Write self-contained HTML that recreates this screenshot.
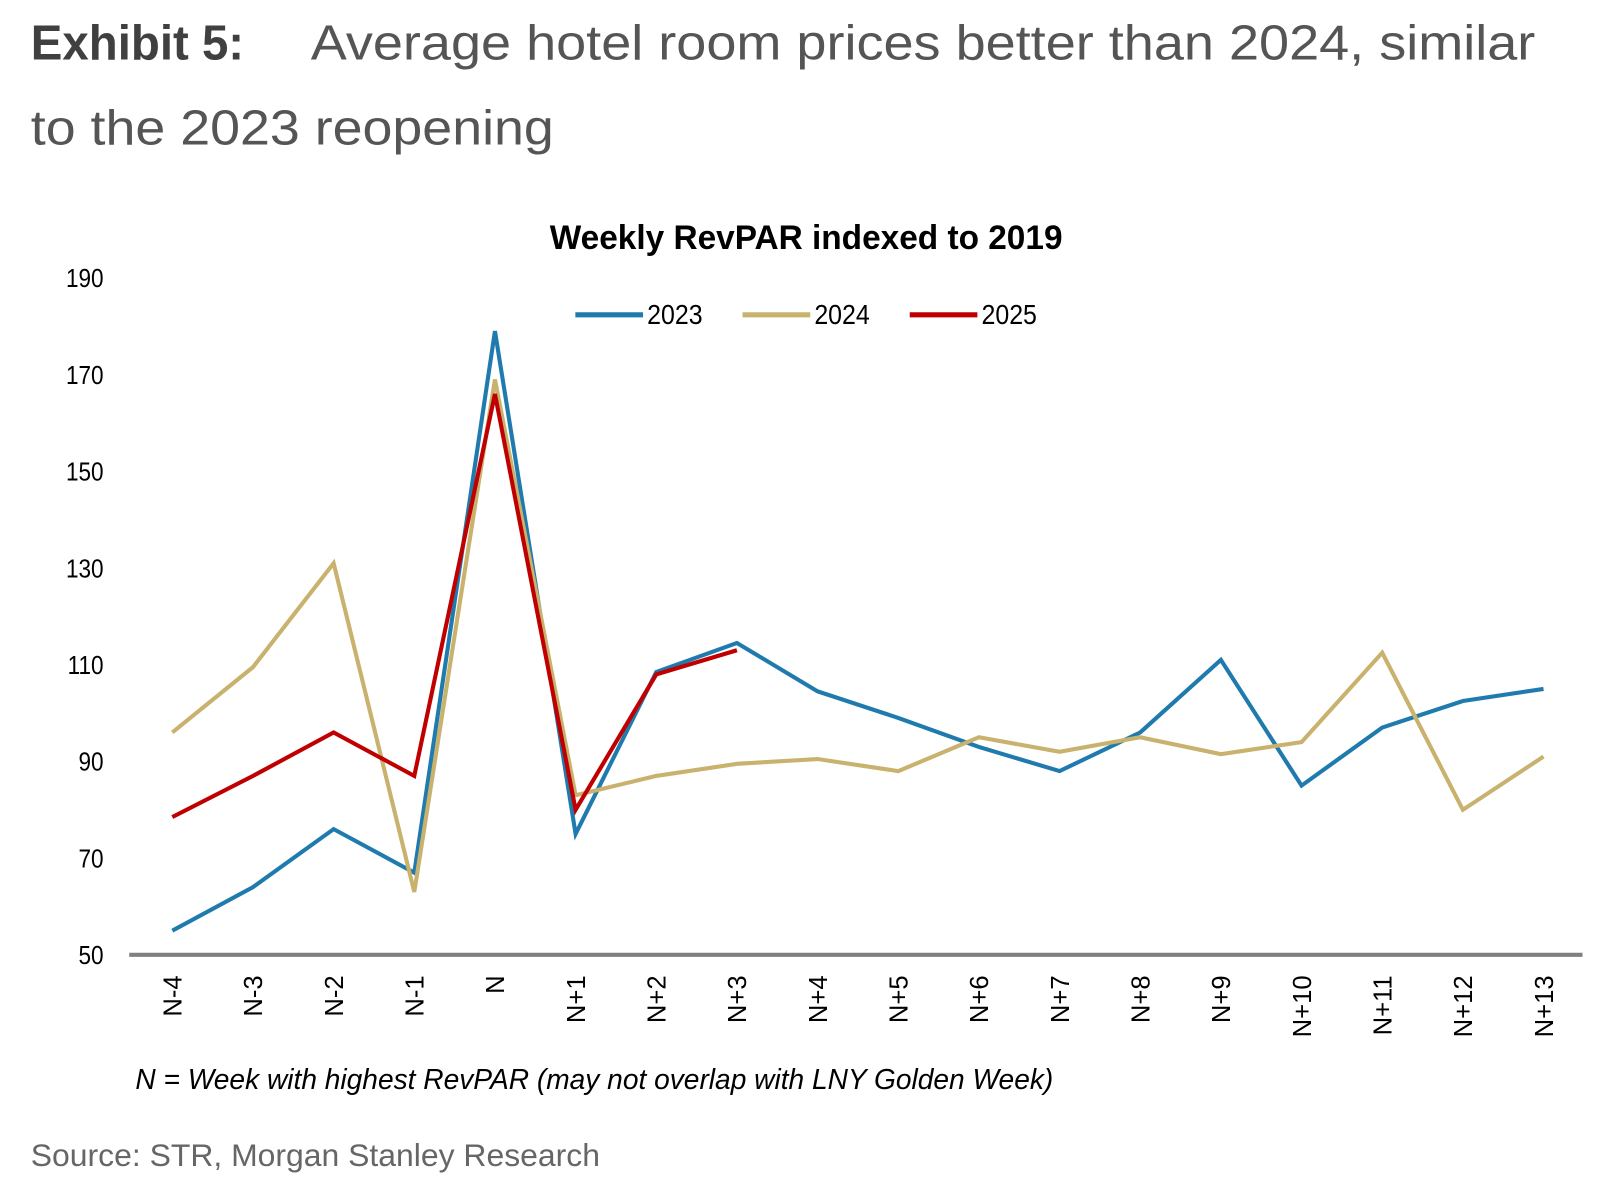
<!DOCTYPE html>
<html><head><meta charset="utf-8"><style>
body{margin:0;background:#fff;width:1606px;height:1178px;overflow:hidden;font-family:"Liberation Sans",sans-serif}
</style></head><body>
<svg width="1606" height="1178" id="svg">
<g transform="scale(1.0256)">
<text x="30" y="58" font-size="48" font-weight="bold" fill="#404040" textLength="208" lengthAdjust="spacingAndGlyphs">Exhibit 5:</text>
<text x="303" y="58" font-size="48" fill="#555" textLength="1194" lengthAdjust="spacingAndGlyphs">Average hotel room prices better than 2024, similar</text>
<text x="30" y="141" font-size="48" fill="#555" textLength="510" lengthAdjust="spacingAndGlyphs">to the 2023 reopening</text>
<text x="536" y="243" font-size="33" font-weight="bold" fill="#000" textLength="500" lengthAdjust="spacingAndGlyphs">Weekly RevPAR indexed to 2019</text>
<g id="legend"></g>
<g id="yaxis"></g>
<g id="xaxis"></g>
<g id="series"></g>
<text x="132" y="1062" font-size="28" font-style="italic" fill="#000" textLength="895" lengthAdjust="spacingAndGlyphs">N = Week with highest RevPAR (may not overlap with LNY Golden Week)</text>
<text x="30" y="1137" font-size="31" fill="#666" textLength="555" lengthAdjust="spacingAndGlyphs">Source: STR, Morgan Stanley Research</text>
</g>
</svg>
<script>
const categories=["N-4","N-3","N-2","N-1","N","N+1","N+2","N+3","N+4","N+5","N+6","N+7","N+8","N+9","N+10","N+11","N+12","N+13"];
const s2023=[55,64,76,67,179,75,108.5,114.5,104.5,99,93,88,96,111,85,97,102.5,105];
const s2024=[96,109.5,131,63,169,83,87,89.5,90.5,88,95,92,95,91.5,94,112.5,80,91];
const s2025=[78.5,87,96,87,166,80,108,113];
const yTicks=[50,70,90,110,130,150,170,190];
const seriesNames=["2023","2024","2025"];
const colors=["#1f7bad","#c9b26d","#c00000"];
const NS="http://www.w3.org/2000/svg";
const y=v=>931-(v-50)*(660/140);
const x=i=>168+i*(1337/17);
function mk(tag,attrs,parent){const e=document.createElementNS(NS,tag);for(const k in attrs)e.setAttribute(k,attrs[k]);parent.appendChild(e);return e;}
const ya=document.getElementById('yaxis');
yTicks.forEach(t=>{const e=mk('text',{x:101,y:y(t)+9,'font-size':25,'text-anchor':'end',fill:'#000',transform:`translate(101,0) scale(0.88,1) translate(-101,0)`},ya);e.textContent=t;

});
const xa=document.getElementById('xaxis');
const axl=mk('line',{x1:126,x2:1543,y1:931,y2:931,stroke:'#808080','stroke-width':4},xa);


categories.forEach((c,i)=>{const e=mk('text',{x:0,y:0,'font-size':25,'text-anchor':'end',fill:'#000',transform:`translate(${x(i)+9},951) rotate(-90)`},xa);e.textContent=c;

});
const sg=document.getElementById('series');
[s2023,s2024,s2025].forEach((d,k)=>{const p=mk('polyline',{points:d.map((v,i)=>x(i)+','+y(v)).join(' '),fill:'none',stroke:colors[k],'stroke-width':4,'stroke-linejoin':'miter'},sg);

});
const lg=document.getElementById('legend');
const lx=[561,724,887];
seriesNames.forEach((n,k)=>{const l=mk('line',{x1:lx[k],x2:lx[k]+66,y1:307,y2:307,stroke:colors[k],'stroke-width':5},lg);


const t=mk('text',{x:lx[k]+70,y:316,'font-size':27,fill:'#000',transform:`translate(${lx[k]+70},0) scale(0.9,1) translate(${-(lx[k]+70)},0)`},lg);t.textContent=n;

});
</script>
</body></html>
